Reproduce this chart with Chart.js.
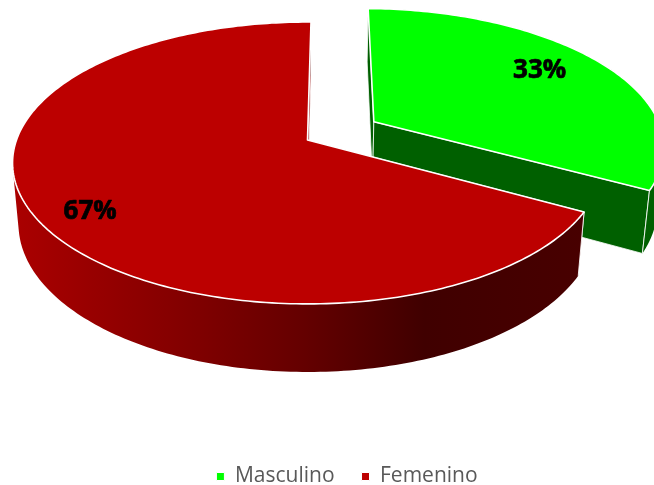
<!DOCTYPE html>
<html><head><meta charset="utf-8">
<style>html,body{margin:0;padding:0;background:#fff;overflow:hidden}#w{width:654px;height:485px;position:relative}</style>
<script src="https://cdn.jsdelivr.net/npm/chart.js@4"></script>
</head><body><div id="w"><canvas id="c"></canvas></div>
<script>
const categories = ['Masculino', 'Femenino'];
const values = [32.8, 67.2];
const topColors = ['#00FF00', '#BC0000'];
const explodeOffset = [52, 0];
const firstAngle = 0.8;

// camera: plane (u,v) in units of the pie radius, z = depth plane
const view = {dx:-39.5, cy:140, R:291, sR:137.2, p:0.163, q:0.02, depth:61.6};
const labelPlane = [[0.637,-0.42],[-0.688,0.4835]];

function project(cx,u,v,low){
  const w = 1 - view.p*v + (low?view.q:0);
  return [cx + view.R*u/w, view.cy + (view.sR*v + (low?view.depth:0))/w];
}
function poly(ctx,pts){ctx.beginPath();pts.forEach((p,i)=>i?ctx.lineTo(p[0],p[1]):ctx.moveTo(p[0],p[1]));ctx.closePath();}
function addQuad(ctx,q){
  let s=0;
  for(let i=0;i<4;i++){const a=q[i],b=q[(i+1)%4];s+=a[0]*b[1]-b[0]*a[1];}
  const pts=s<0?q.slice().reverse():q;
  pts.forEach((p,i)=>i?ctx.lineTo(p[0],p[1]):ctx.moveTo(p[0],p[1]));
  ctx.closePath();
}

const pie3d = {
  id:'pie3d',
  beforeDatasetsDraw(chart){
    const ctx = chart.ctx, els = chart.getDatasetMeta(0).data;
    ctx.save();
    els.forEach((el,i)=>{
      const cx = el.x + view.dx, mid=(el.startAngle+el.endAngle)/2;
      const f = el.options.offset/el.outerRadius;
      const ou=f*Math.cos(mid), ov=f*Math.sin(mid);
      const arc=[]; const n=Math.ceil((el.endAngle-el.startAngle)*180/Math.PI);
      for(let k=0;k<=n;k++){const a=el.startAngle+(el.endAngle-el.startAngle)*k/n;arc.push([ou+Math.cos(a),ov+Math.sin(a)]);}
      const top=arc.map(p=>project(cx,p[0],p[1],false));
      const low=arc.map(p=>project(cx,p[0],p[1],true));
      const at=project(cx,ou,ov,false), ab=project(cx,ou,ov,true);
      const isRed = i===1;
      let wall;
      if(isRed){
        wall=ctx.createLinearGradient(15,0,583,0);
        wall.addColorStop(0,'#AA0000');wall.addColorStop(0.33,'#7E0000');wall.addColorStop(0.51,'#640000');
        wall.addColorStop(0.72,'#400000');wall.addColorStop(1,'#480000');
      } else wall='#006000';
      ctx.lineJoin='round';
      const faces=[[at,top[0],low[0],ab],[at,top[n],low[n],ab]];
      faces.forEach(fc=>{poly(ctx,fc);ctx.fillStyle=isRed?'#900000':'#006000';ctx.fill();ctx.strokeStyle='#fff';ctx.lineWidth=0.8;ctx.stroke();});
      ctx.fillStyle=wall;
      ctx.beginPath();
      for(let k=0;k<n;k++) addQuad(ctx,[top[k],top[k+1],low[k+1],low[k]]);
      ctx.fill('nonzero');
      ctx.strokeStyle='rgba(255,255,255,0.85)';ctx.lineWidth=1;
      [0,n].forEach(k=>{ctx.beginPath();ctx.moveTo(top[k][0],top[k][1]);ctx.lineTo(low[k][0],low[k][1]);ctx.stroke();});
      poly(ctx,[at].concat(top));
      ctx.fillStyle=el.options.backgroundColor;ctx.fill();
      ctx.strokeStyle='#fff';ctx.lineWidth=1.6;ctx.stroke();
    });
    const tot=values.reduce((a,b)=>a+b,0);
    ctx.fillStyle='#000';ctx.strokeStyle='#000';ctx.lineWidth=0.7;ctx.font='bold 26px "Open Sans"';ctx.textAlign='center';ctx.textBaseline='middle';
    els.forEach((el,i)=>{
      const cx=el.x+view.dx, mid=(el.startAngle+el.endAngle)/2, f=el.options.offset/el.outerRadius;
      const p=project(cx,f*Math.cos(mid)+labelPlane[i][0],f*Math.sin(mid)+labelPlane[i][1],false);
      const t=Math.round(values[i]/tot*100)+'%';
      ctx.fillText(t,p[0],p[1]);ctx.strokeText(t,p[0],p[1]);
    });
    ctx.restore();
    return false;
  }
};

new Chart(document.getElementById('c'),{
  type:'pie',
  data:{labels:categories,datasets:[{data:values,backgroundColor:topColors,offset:explodeOffset,borderColor:'#fff',borderWidth:1}]},
  options:{
    responsive:true,maintainAspectRatio:false,animation:false,rotation:firstAngle,
    layout:{padding:{bottom:-12,left:40}},
    plugins:{
      tooltip:{enabled:false},
      legend:{position:'bottom',labels:{usePointStyle:true,pointStyle:'rect',boxWidth:8,boxHeight:8,padding:27,color:'#595959',font:{family:'"Open Sans"',size:21}}}
    }
  },
  plugins:[pie3d]
});
</script></body></html>
